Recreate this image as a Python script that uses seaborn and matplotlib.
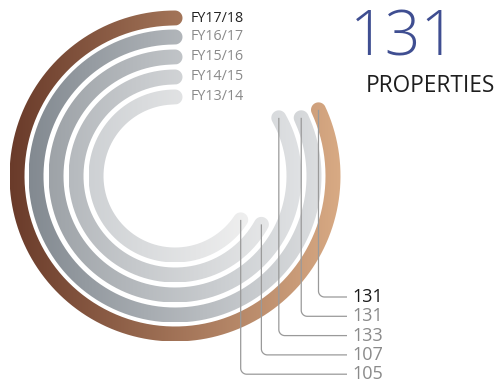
import numpy as np
import matplotlib
matplotlib.use("Agg")
import matplotlib.pyplot as plt
from matplotlib.path import Path
from matplotlib.patches import PathPatch
import seaborn as sns

# Properties per financial year (outermost ring first)
years = ["FY17/18", "FY16/17", "FY15/16", "FY14/15", "FY13/14"]
properties = [131, 131, 133, 107, 105]
scale_max = 160  # value that would close a full circle
headline_value = "131"
headline_label = "PROPERTIES"

# Ring gradients, left edge -> right edge
left_colors = ["#6a3b2a", "#838a91", "#9ea3a8", "#b6babe", "#ced1d4"]
right_colors = ["#d8aa84", "#dcdee0", "#e0e2e4", "#e6e7e8", "#efefef"]
year_colors = ["#222222", "#8a8a8a", "#8a8a8a", "#8a8a8a", "#8a8a8a"]
value_colors = ["#1a1a1a", "#8a8a8a", "#8a8a8a", "#8a8a8a", "#8a8a8a"]

sns.set_style("white")
plt.rcParams["font.family"] = ["Open Sans", "DejaVu Sans"]

fig = plt.figure(figsize=(4.98, 3.84), dpi=100)
ax = fig.add_axes([0, 0, 1, 1])

cx, cy = 175.0, 176.0
radii = [158, 139, 119, 99, 79]
half = 7.5
label_x, line_end_x = 352, 347
label_y0, label_dy = 297, 19.3
corner = 6


def pt(r, deg):
    a = np.radians(deg)
    return cx + r * np.cos(a), cy - r * np.sin(a)


for i, (yr, v, r) in enumerate(zip(years, properties, radii)):
    t0 = 90.0
    t1 = 90.0 + v / scale_max * 360.0
    th = np.linspace(t0, t1, 600)
    ox, oy = pt(r + half, th)
    ex, ey = pt(r, t1)
    sx, sy = pt(r, t0)
    phi_end = np.radians(np.linspace(t1, t1 + 180, 60))
    capx_e = ex + half * np.cos(phi_end)
    capy_e = ey - half * np.sin(phi_end)
    ix, iy = pt(r - half, th[::-1])
    phi_st = np.radians(np.linspace(t0 + 180, t0 + 360, 60))
    capx_s = sx + half * np.cos(phi_st)
    capy_s = sy - half * np.sin(phi_st)
    xs = np.concatenate([ox, capx_e, ix, capx_s])
    ys = np.concatenate([oy, capy_e, iy, capy_s])
    verts = np.column_stack([xs, ys])
    patch = PathPatch(Path(verts, closed=False), facecolor="none", edgecolor="none")
    ax.add_patch(patch)

    cmap = sns.blend_palette([left_colors[i], right_colors[i]], as_cmap=True)
    grad = np.linspace(0, 1, 256).reshape(1, -1)
    im = ax.imshow(grad, cmap=cmap, aspect="auto",
                   extent=(xs.min(), xs.max(), ys.max(), ys.min()),
                   interpolation="bilinear", zorder=1)
    im.set_clip_path(patch)

    # year label at the top of each ring
    ax.text(191, sy, yr, fontsize=10.3, color=year_colors[i],
            ha="left", va="center", zorder=3)

    # leader from the ring end down to its value
    ly = label_y0 + i * label_dy
    a = np.radians(np.linspace(180, 270, 20))
    arc_x = ex + corner + corner * np.cos(a)
    arc_y = ly - corner - corner * np.sin(a)
    lx = np.concatenate([[ex], arc_x, [line_end_x]])
    lyy = np.concatenate([[ey], arc_y, [ly]])
    ax.plot(lx, lyy, color="#9a9a9a", lw=0.9, zorder=2,
            solid_capstyle="butt")
    ax.text(label_x, ly, str(v), fontsize=13, color=value_colors[i],
            ha="left", va="center", zorder=3)

ax.text(403, 39, headline_value, fontsize=45, color="#3f4e91",
        ha="center", va="center", fontweight="light")
ax.text(430, 86, headline_label, fontsize=16.3, color="#1e1e1e",
        ha="center", va="center")

ax.set_xlim(0, 498)
ax.set_ylim(384, 0)
ax.axis("off")
fig.savefig("out.png", dpi=100)
